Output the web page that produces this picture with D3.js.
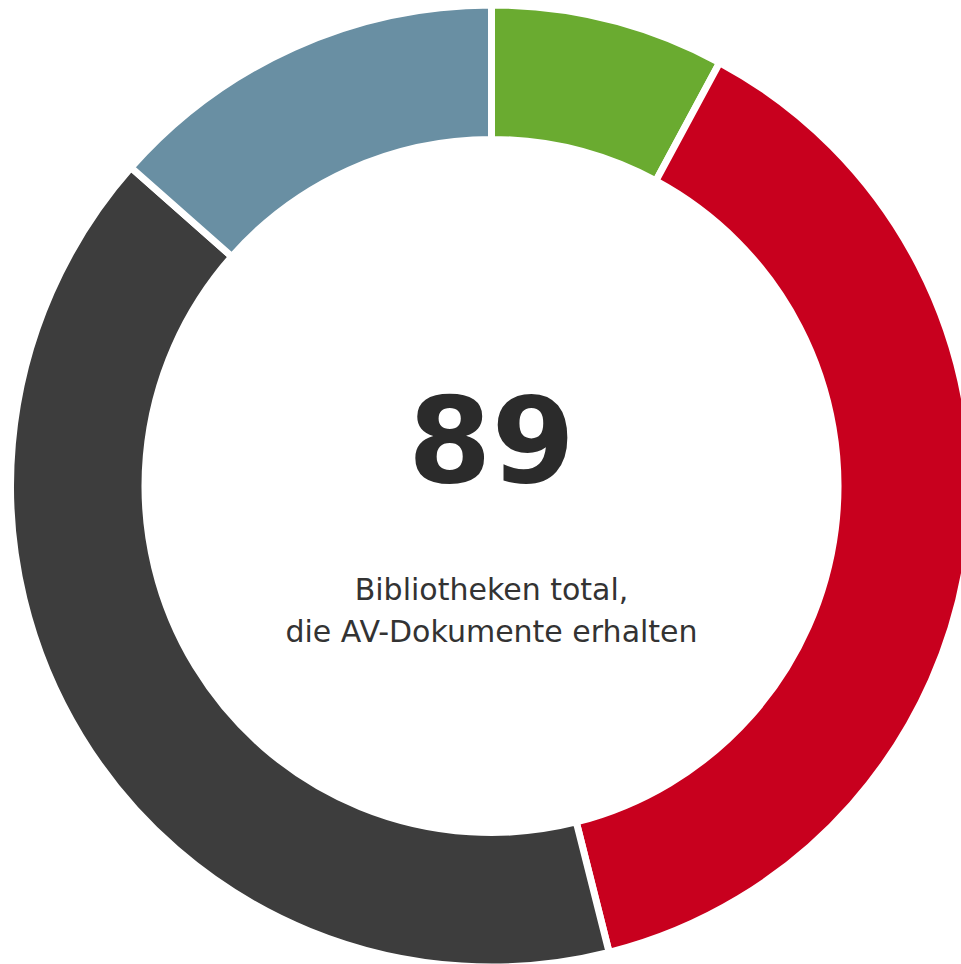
<!DOCTYPE html>
<html>
<head>
<meta charset="utf-8">
<script src="https://cdn.jsdelivr.net/npm/d3@7"></script>
<style>
  html, body { margin: 0; padding: 0; background: #fff; overflow: hidden; }
  svg { display: block; }
</style>
</head>
<body>
<svg id="chart" width="961" height="964"></svg>
<script>
// --- Data ---
const categories = ["A", "B", "C", "D"];
const values = [7, 34, 36, 12];
const colors = ["#6aab30", "#c8001e", "#3d3d3d", "#698fa3"];
const totalLabel = "89";
const subtitleLines = ["Bibliotheken total,", "die AV-Dokumente erhalten"];

// --- Layout ---
const CX = 491.5, CY = 486;
const R_OUTER = 481, R_INNER = 346.5;

const svg = d3.select("#chart");
const g = svg.append("g").attr("transform", `translate(${CX},${CY})`);

const pie = d3.pie().sort(null).value(d => d.value);
const arc = d3.arc().innerRadius(R_INNER).outerRadius(R_OUTER);

const data = categories.map((c, i) => ({ name: c, value: values[i], color: colors[i] }));

g.selectAll("path.slice")
  .data(pie(data))
  .enter()
  .append("path")
  .attr("class", "slice")
  .attr("d", arc)
  .attr("fill", d => d.data.color)
  .attr("stroke", "#fff")
  .attr("stroke-width", 7)
  .attr("stroke-linejoin", "miter");

// center text
g.append("text")
  .attr("x", 0)
  .attr("y", -4)
  .attr("text-anchor", "middle")
  .attr("font-family", "DejaVu Sans")
  .attr("font-weight", "bold")
  .attr("font-size", 120)
  .attr("fill", "#2b2b2b")
  .text(totalLabel);

g.selectAll("text.sub")
  .data(subtitleLines)
  .enter()
  .append("text")
  .attr("class", "sub")
  .attr("x", 0)
  .attr("y", (d, i) => 114 + i * 42)
  .attr("text-anchor", "middle")
  .attr("font-family", "DejaVu Sans")
  .attr("font-size", 30)
  .attr("fill", "#333")
  .text(d => d);
</script>
</body>
</html>
